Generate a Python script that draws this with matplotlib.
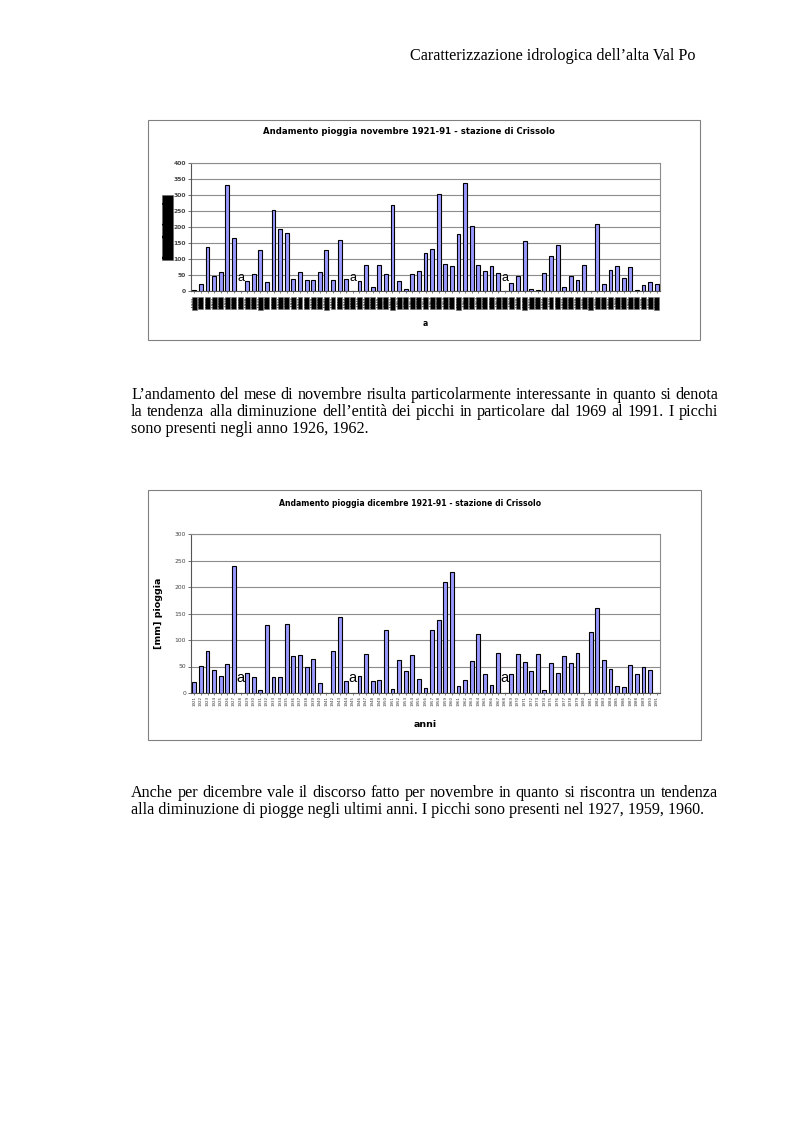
import matplotlib
matplotlib.use("Agg")
import matplotlib.pyplot as plt
from matplotlib.patches import Rectangle

# ---------------- data ----------------
years = list(range(1921, 1992))
year_labels = [str(y) for y in years]
# None = missing year (marked "a"), 0 = no rain
nov_rain = [4, 22, 138, 47, 60, 332, 166, None, 32, 54,
            128, 28, 254, 194, 182, 38, 60, 35, 35, 60,
            128, 35, 160, 38, None, 32, 82, 13, 82, 54,
            270, 32, 7, 54, 63, 120, 132, 304, 85, 78,
            178, 338, 202, 82, 63, 79, 57, None, 26, 48,
            157, 7, 4, 57, 110, 144, 13, 48, 35, 82,
            0, 210, 22, 66, 79, 41, 76, 4, 19, 28, 22]
dec_rain = [21, 51, 80, 43, 33, 55, 240, None, 37, 31,
            5, 129, 31, 30, 131, 70, 72, 50, 65, 19,
            0, 80, 143, 22, None, 33, 73, 22, 24, 119,
            7, 62, 42, 71, 26, 9, 119, 137, 210, 228,
            13, 24, 61, 112, 36, 15, 75, None, 36, 73,
            59, 42, 74, 6, 56, 37, 69, 56, 76, 0,
            115, 161, 62, 46, 14, 11, 53, 35, 49, 43, 0]
nov_ticks = list(range(0, 401, 50))
dec_ticks = list(range(0, 301, 50))

title_nov = "Andamento pioggia novembre 1921-91 - stazione di Crissolo"
title_dec = "Andamento pioggia dicembre 1921-91 - stazione di Crissolo"
header = "Caratterizzazione idrologica dell\u2019alta Val Po"
para1 = ["L\u2019andamento del mese di novembre risulta particolarmente interessante in quanto si denota",
         "la tendenza alla diminuzione dell\u2019entit\u00e0 dei picchi in particolare dal 1969 al 1991. I picchi",
         "sono presenti negli anno 1926, 1962."]
para2 = ["Anche per dicembre vale il discorso fatto per novembre in quanto si riscontra un tendenza",
         "alla diminuzione di piogge negli ultimi anni. I picchi sono presenti nel 1927, 1959, 1960."]

# ---------------- figure ----------------
W, H = 793, 1123
fig = plt.figure(figsize=(W / 100, H / 100), dpi=100)
fig.patch.set_facecolor("white")
renderer = fig.canvas.get_renderer()

def fx(x):
    return x / W

def fy(y):
    return 1 - y / H

SERIF = "Liberation Serif"
BAR = "#9999ff"
GRID = "#8c8c8c"
FS_TXT = 11.6

# header
fig.text(fx(695), fy(60), header, family=SERIF, fontsize=FS_TXT, ha="right", va="baseline")

def justified(lines, baselines, x0, x1, justify_flags, fs=FS_TXT):
    for line, yb, just in zip(lines, baselines, justify_flags):
        if not just:
            fig.text(fx(x0), fy(yb), line, family=SERIF, fontsize=fs, ha="left", va="baseline")
            continue
        words = line.split(" ")
        objs = [fig.text(0, fy(yb), w, family=SERIF, fontsize=fs, ha="left", va="baseline") for w in words]
        widths = [o.get_window_extent(renderer).width for o in objs]
        gap = (x1 - x0 - sum(widths)) / (len(words) - 1)
        x = x0
        for o, w in zip(objs, widths):
            o.set_x(fx(x))
            x += w + gap

justified(para1, [399, 416, 433], 131, 718, [True, True, False])
justified(para2, [797, 814], 131, 718, [True, False])

# chart frames
for (x0, y0, x1, y1) in [(148, 120, 700, 340), (148, 490, 701, 740)]:
    fig.patches.append(Rectangle((fx(x0), fy(y1)), fx(x1) - fx(x0), fy(y0) - fy(y1),
                                 transform=fig.transFigure, fill=False,
                                 edgecolor="#808080", linewidth=0.8))

def style_axes(ax, ymax, ticks):
    ax.set_xlim(-0.5, len(years) - 0.5)
    ax.set_ylim(0, ymax)
    ax.set_yticks(ticks)
    ax.set_axisbelow(True)
    ax.yaxis.grid(True, color=GRID, linewidth=0.8)
    for s in ["top", "right"]:
        ax.spines[s].set_color(GRID)
        ax.spines[s].set_linewidth(0.8)
    ax.spines["left"].set_color("#555555")
    ax.spines["bottom"].set_color("#555555")
    ax.spines["left"].set_linewidth(0.8)
    ax.spines["bottom"].set_linewidth(0.8)
    ax.tick_params(axis="y", length=2, width=0.6, color="#555555", pad=1.5)
    ax.tick_params(axis="x", length=1.5, width=0.5, color="#555555", pad=1)

def draw_bars(ax, vals, a_y, a_fs):
    xs = list(range(len(years)))
    hs = [v if v is not None else 0 for v in vals]
    ax.bar(xs, hs, width=0.58, color=BAR, edgecolor="black", linewidth=0.8, zorder=3)
    for i, v in enumerate(vals):
        if v is None:
            ax.text(i, a_y, "a", family="Liberation Sans", fontsize=a_fs,
                    ha="center", va="center", zorder=4)

# ---------- chart 1 : novembre ----------
ax1 = fig.add_axes([fx(191), fy(291), fx(660) - fx(191), fy(163) - fy(291)])
style_axes(ax1, 400, nov_ticks)
draw_bars(ax1, nov_rain, 40, 9)
ax1.set_yticklabels([str(t) for t in nov_ticks], fontsize=4.3, color="#444444", fontweight="bold")
ax1.set_xticks(range(len(years)))
lbls1 = []
for i, y in enumerate(year_labels):
    lbls1.append(("  " if i % 10 == 0 else " ") + y)
ax1.set_xticklabels(lbls1, rotation=90, fontsize=2.8, va="top", ha="center")
ax1.tick_params(axis="x", pad=3)
for t in ax1.get_xticklabels():
    t.set_color("black")
    t.set_bbox(dict(boxstyle="square,pad=0.12", fc="black", ec="#707070", lw=0.4))
ax1.set_ylabel("[mm] pioggia", fontsize=6, fontweight="bold", color="black",
               bbox=dict(boxstyle="square,pad=0.15", fc="black", ec="#606060", lw=0.4))
ax1.yaxis.set_label_coords((172 - 191) / 469, (291 - 227.5) / 128)
ax1.set_xlabel("a", fontsize=5.5, fontweight="bold")
ax1.xaxis.set_label_coords(0.5, (291 - 319) / 128)
fig.text(fx(409), fy(132), title_nov, fontsize=6.1, fontweight="bold", ha="center", va="center")

# ---------- chart 2 : dicembre ----------
ax2 = fig.add_axes([fx(191), fy(693), fx(660) - fx(191), fy(534) - fy(693)])
style_axes(ax2, 300, dec_ticks)
draw_bars(ax2, dec_rain, 29, 10.5)
ax2.set_yticklabels([str(t) for t in dec_ticks], fontsize=4.3, color="#444444")
ax2.set_xticks(range(len(years)))
ax2.set_xticklabels(year_labels, rotation=90, fontsize=2.9, color="#333333")
ax2.set_ylabel("[mm] pioggia", fontsize=6.8, fontweight="bold")
ax2.yaxis.set_label_coords((163 - 191) / 469, (693 - 613) / 159)
ax2.set_xlabel("anni", fontsize=6.8, fontweight="bold")
ax2.xaxis.set_label_coords(0.5, (693 - 720) / 159)
fig.text(fx(410), fy(504), title_dec, fontsize=5.6, fontweight="bold", ha="center", va="center")

fig.savefig("out.png", dpi=100, facecolor="white")
